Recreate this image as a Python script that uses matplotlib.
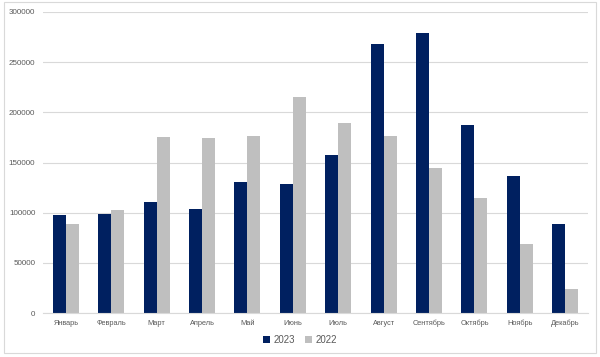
import numpy as np
import matplotlib.pyplot as plt
from matplotlib.patches import Rectangle

plt.rcParams["font.family"] = ["Liberation Sans", "DejaVu Sans"]

months = ["Январь", "Февраль", "Март", "Апрель", "Май", "Июнь", "Июль",
          "Август", "Сентябрь", "Октябрь", "Ноябрь", "Декабрь"]
sales_2023 = [97500, 98500, 111000, 103500, 130500, 129000, 157500,
              268000, 279000, 187000, 136500, 89000]
sales_2022 = [88500, 103000, 175500, 174500, 176500, 215500, 189000,
              176500, 144500, 114500, 68500, 24000]

c23 = "#002060"
c22 = "#BFBFBF"
txt = "#595959"

fig = plt.figure(figsize=(6, 3.57), dpi=100)
fig.patches.append(Rectangle((4 / 600, 1 - 353 / 357), 592 / 600, 351 / 357,
                             transform=fig.transFigure, fill=False,
                             edgecolor="#D9D9D9", lw=0.8))
ax = fig.add_axes([43 / 600, 1 - 313 / 357, 545 / 600, 301 / 357])

x = np.arange(len(months))
w = 0.286
ax.bar(x - w / 2, sales_2023, w, color=c23, label="2023")
ax.bar(x + w / 2, sales_2022, w, color=c22, label="2022")

ax.set_xlim(-0.5, len(months) - 0.5)
ax.set_ylim(0, 300000)
ax.set_yticks(range(0, 300001, 50000))
ax.set_xticks(x)
ax.set_xticklabels(months)
ax.tick_params(axis="x", length=0, labelsize=5.3, colors=txt, pad=5)
ax.tick_params(axis="y", length=0, labelsize=5.8, colors=txt, pad=5.5)
ax.grid(axis="y", color="#D9D9D9", lw=0.8)
ax.set_axisbelow(True)
for s in ["top", "right", "left"]:
    ax.spines[s].set_visible(False)
ax.spines["bottom"].set_color("#D9D9D9")
ax.spines["bottom"].set_linewidth(0.8)

fig.legend(loc="center", bbox_to_anchor=(0.5, 1 - 340 / 357), ncol=2,
           frameon=False, fontsize=7, labelcolor=txt, handlelength=0.7,
           handleheight=0.7, handletextpad=0.4, columnspacing=1.0)

fig.savefig("out.png", dpi=100)
